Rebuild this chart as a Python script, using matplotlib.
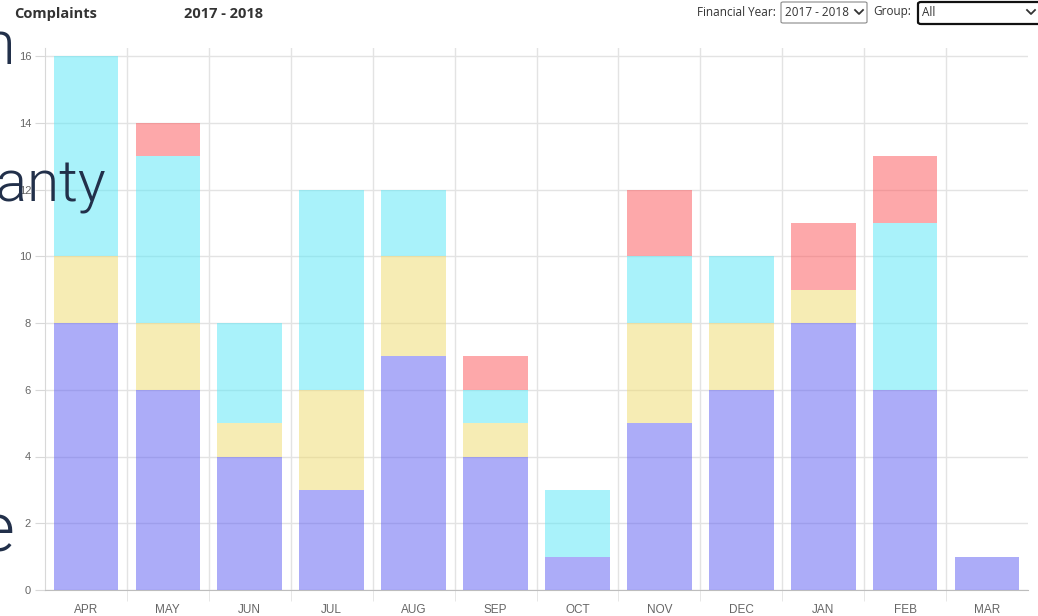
import numpy as np
import matplotlib.pyplot as plt
from matplotlib.patches import FancyBboxPatch
from matplotlib.lines import Line2D

months = ["APR", "MAY", "JUN", "JUL", "AUG", "SEP", "OCT", "NOV", "DEC", "JAN", "FEB", "MAR"]
# stacked series, bottom to top
purple = [8, 6, 4, 3, 7, 4, 1, 5, 6, 8, 6, 1]
yellow = [2, 2, 1, 3, 3, 1, 0, 3, 2, 1, 0, 0]
cyan = [6, 5, 3, 6, 2, 1, 2, 2, 2, 0, 5, 0]
red = [0, 1, 0, 0, 0, 1, 0, 2, 0, 2, 2, 0]

series = [purple, yellow, cyan, red]
colors = ["#5b5bf3", "#efdb6b", "#55e7f7", "#fd5357"]

W, H = 1038, 616
fig = plt.figure(figsize=(W / 100, H / 100), dpi=100)


def px(x, y):
    return x / W, 1 - y / H


ymax = 16 * (590 - 48) / (590 - 56)
ax = fig.add_axes([45 / W, (H - 590) / H, (1028 - 45) / W, (590 - 48) / H])

x = np.arange(len(months))
bottom = np.zeros(len(months))
for vals, c in zip(series, colors):
    ax.bar(x, vals, bottom=bottom, width=0.79, color=c, alpha=0.5, linewidth=0, zorder=3)
    bottom += np.array(vals)

ax.set_xlim(-0.5, len(months) - 0.5)
ax.set_ylim(0, ymax)
ax.set_yticks(range(0, 17, 2))
ax.set_xticks(x)
ax.set_xticklabels(months, family="Liberation Sans")
ax.set_xticks(np.arange(len(months) - 1) + 0.5, minor=True)
ax.grid(axis="y", which="major", color="#e3e3e3", linewidth=1, zorder=1)
ax.grid(axis="x", which="minor", color="#e3e3e3", linewidth=1, zorder=1)
ax.tick_params(axis="x", which="major", length=0, pad=10, labelsize=8.5, labelcolor="#666666")
ax.tick_params(axis="x", which="minor", length=8, color="#e3e3e3")
ax.tick_params(axis="y", length=7, color="#d8d8d8", labelsize=8, labelcolor="#666666", pad=3)
for lab in ax.get_yticklabels():
    lab.set_family("Liberation Sans")
for s in ["top", "right"]:
    ax.spines[s].set_visible(False)
ax.spines["left"].set_color("#d8d8d8")
ax.spines["bottom"].set_color("#bdbdbd")

# header
hfont = "Open Sans"
fig.text(*px(14, 14), "Complaints", fontsize=10.5, fontweight="bold", color="#333333",
         family=hfont, va="center")
fig.text(*px(184, 14), "2017 - 2018", fontsize=10.5, fontweight="bold", color="#333333",
         family=hfont, va="center")
fig.text(*px(697, 12), "Financial Year:", fontsize=8.5, color="#333333", family=hfont, va="center")
fig.text(*px(873, 12), "Group:", fontsize=8.5, color="#333333", family=hfont, va="center")

box1 = FancyBboxPatch(px(781, 23), 86 / W, 21 / H, boxstyle="round,pad=0,rounding_size=0.002",
                      transform=fig.transFigure, facecolor="white", edgecolor="#8a8a8a", linewidth=0.8)
fig.patches.append(box1)
fig.text(*px(785, 12), "2017 - 2018", fontsize=8.5, color="#333333", family=hfont, va="center")
box2 = FancyBboxPatch(px(918, 24), 125 / W, 22 / H, boxstyle="round,pad=0,rounding_size=0.003",
                      transform=fig.transFigure, facecolor="white", edgecolor="#111111", linewidth=1.6)
fig.patches.append(box2)
fig.text(*px(922, 12), "All", fontsize=8.5, color="#333333", family=hfont, va="center")


def chevron(cx, cy):
    xs = [cx - 4, cx, cx + 4]
    ys = [cy - 2, cy + 2, cy - 2]
    fig.lines.append(Line2D([v / W for v in xs], [1 - v / H for v in ys],
                            transform=fig.transFigure, color="#333333", linewidth=1.3))


chevron(859, 12)
chevron(1031, 12)

# large background text bleeding in from the left
big = dict(fontsize=42, color="#22304a", family="Roboto", fontweight=300, ha="right",
           va="baseline")
fig.text(*px(15, 64), "n", fontsize=44, color="#22304a", family="Roboto", fontweight=300,
         ha="right", va="baseline")
fig.text(*px(106, 201), "ranty", **big)
fig.text(*px(3, 383), ".", **big)
fig.text(*px(15, 552), "e", fontsize=50, color="#22304a", family="Roboto", fontweight=300,
         ha="right", va="baseline")

fig.savefig("out.png", dpi=100)
